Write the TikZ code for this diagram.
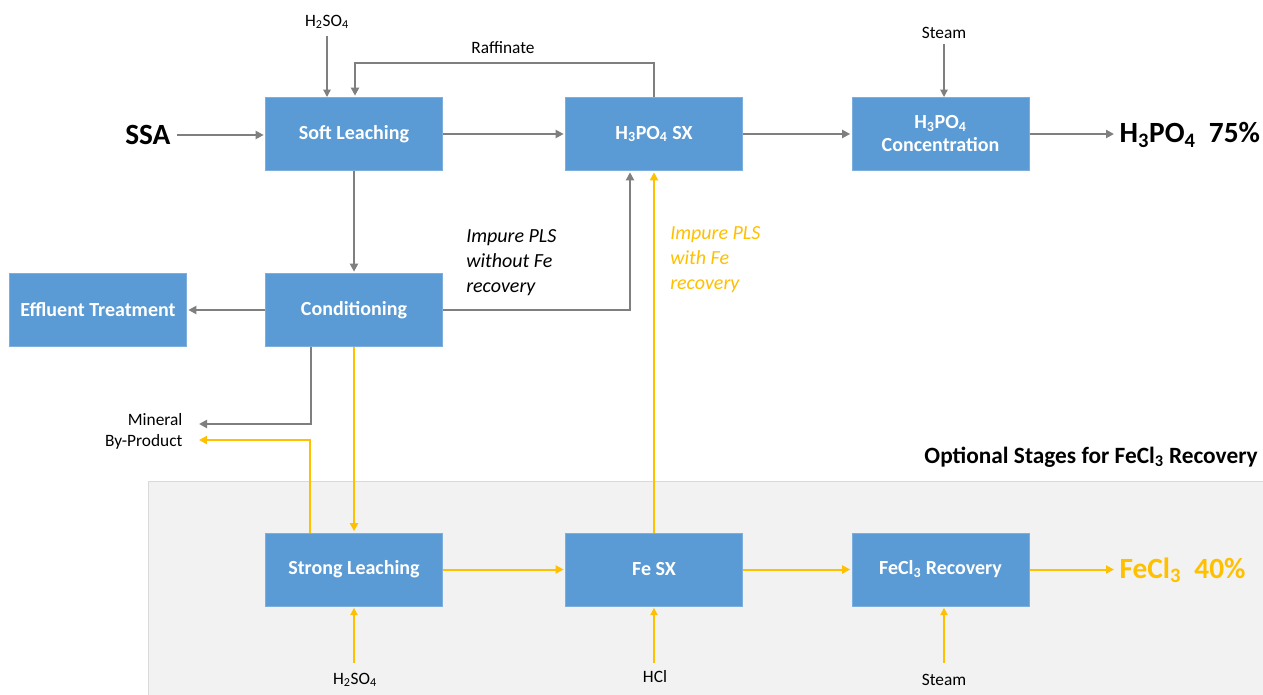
\documentclass[tikz,border=0pt]{standalone}
\usepackage{fontspec}
\setmainfont{Carlito}
\usetikzlibrary{arrows.meta,calc}
\definecolor{boxblue}{HTML}{5B9BD5}
\definecolor{flowgray}{HTML}{7F7F7F}
\definecolor{flowyellow}{HTML}{FFC000}
\definecolor{optfill}{HTML}{F2F2F2}
\definecolor{optline}{HTML}{D9D9D9}
\newcommand{\dn}[1]{\textsubscript{#1}}
\begin{document}
\begin{tikzpicture}[x=0.75pt,y=-0.75pt,
  proc/.style={rectangle, fill=boxblue, draw=boxblue!80!white, line width=0.5pt, text=white,
    font=\bfseries\fontsize{15}{17.25}\selectfont, minimum width=133pt, minimum height=55pt,
    align=center, inner sep=0pt},
  lbl/.style={font=\fontsize{13}{15}\selectfont, inner sep=1pt},
  note/.style={font=\itshape\fontsize{15}{18.75}\selectfont, align=left, inner sep=0pt},
  big/.style={font=\bfseries\fontsize{22}{24}\selectfont, inner sep=1pt},
  garrow/.style={draw=flowgray, line width=2pt, -{Triangle[length=6pt,width=6pt]}},
  yarrow/.style={draw=flowyellow, line width=1.5pt, -{Triangle[length=6pt,width=6pt]}},
  gthin/.style={draw=flowgray, line width=1pt, -{Triangle[length=5.5pt,width=5.5pt]}},
  ythin/.style={draw=flowyellow, line width=1pt, -{Triangle[length=5.5pt,width=5.5pt]}}
]
\useasboundingbox (0,0) rectangle (1263,695);
\fill[white] (0,0) rectangle (1263,695);
% optional region
\fill[optfill] (148,481) rectangle (1263,695);
\draw[optline, line width=0.75pt] (148,695) -- (148,481) -- (1263,481);
\node[anchor=east, font=\bfseries\fontsize{17.5}{20}\selectfont, inner sep=0pt] (opt) at (1258,457) {Optional Stages for FeCl\dn{3} Recovery};

% process boxes
\node[proc] (soft) at (354,134) {\raisebox{-1.5pt}{Soft Leaching}};
\node[proc] (sx) at (654,134) {\raisebox{-1.5pt}{H\dn{3}PO\dn{4} SX}};
\node[proc] (conc) at (940.5,134) {\raisebox{-1.5pt}{H\dn{3}PO\dn{4}}\\\raisebox{-1.5pt}{Concentration}};
\node[proc] (cond) at (354,310) {\raisebox{-1.5pt}{Conditioning}};
\node[proc] (eff) at (98,310) {\raisebox{-1.5pt}{Effluent Treatment}};
\node[proc] (strong) at (354,569.5) {\raisebox{-1.5pt}{Strong Leaching}};
\node[proc] (fesx) at (654,569.5) {\raisebox{-1.5pt}{Fe SX}};
\node[proc] (ferec) at (940.5,569.5) {\raisebox{-1.5pt}{FeCl\dn{3} Recovery}};

% big labels
\node[big, anchor=east] (ssa) at (172,135) {SSA};
\node[big, anchor=west] (h3po4) at (1118,135) {H\dn{3}PO\dn{4}\ \ 75\%};
\node[big, anchor=west, text=flowyellow] (fecl3) at (1118,570) {FeCl\dn{3}\ \ 40\%};

% small labels
\node[lbl] (h2so4t) at (327,22) {H\dn{2}SO\dn{4}};
\node[lbl] (raff) at (503,48) {Raffinate};
\node[lbl] (steamt) at (944,33) {Steam};
\node[lbl, anchor=east, align=right, font=\fontsize{13}{15.75}\selectfont] (mineral) at (184,431) {Mineral\\By-Product};
\node[lbl] (h2so4b) at (355,680) {H\dn{2}SO\dn{4}};
\node[lbl] (hcl) at (655,677) {HCl};
\node[lbl] (steamb) at (944,680) {Steam};
\node[note, anchor=north west] (plsno) at (466,229) {Impure PLS\\without Fe\\recovery};
\node[note, anchor=north west, text=flowyellow] (plsfe) at (670,226) {Impure PLS\\with Fe\\recovery};

% free-end coordinates
\coordinate (minA) at (199,424);
\coordinate (minB) at (199,440);
\coordinate (hclbase) at (654,663);
\coordinate (h2so4base) at (354,663);
\coordinate (steambase) at (944,663);

% gray flows
\draw[garrow, shorten <=4pt, shorten >=1pt] (ssa.east) -- (ssa.east -| soft.west);
\draw[garrow, shorten >=1pt] (soft.east) -- (sx.west);
\draw[garrow, shorten >=1pt] (sx.east) -- (conc.west);
\draw[garrow, shorten >=3pt] (conc.east) -- (conc.east -| h3po4.west);
\draw[garrow, shorten >=1pt] (sx.north) -- ++(0,-34) -| ($(soft.north)+(1,0)$);
\draw[gthin, shorten <=4pt] (h2so4t.south) -- (h2so4t.south |- soft.north);
\draw[gthin, shorten <=3pt] (steamt.south) -- (steamt.south |- conc.north);
\draw[garrow, shorten >=1pt] (soft.south) -- (cond.north);
\draw[garrow, shorten >=1pt] (cond.west) -- (eff.east);
\draw[garrow, shorten >=1pt] (cond.east) -| ($(sx.south)+(-24,0)$);
\draw[garrow] ($(cond.south)+(-43,0)$) |- (minA);

% yellow flows
\draw[yarrow, shorten >=1pt] (cond.south) -- (strong.north);
\draw[yarrow] ($(strong.north)+(-44,0)$) |- (minB);
\draw[yarrow, shorten >=1pt] (strong.east) -- (fesx.west);
\draw[yarrow, shorten >=1pt] (fesx.east) -- (ferec.west);
\draw[yarrow, shorten >=3pt] (ferec.east) -- (ferec.east -| fecl3.west);
\draw[yarrow, shorten >=1pt] (fesx.north) -- (sx.south);
\draw[ythin, shorten >=1pt] (h2so4base) -- (h2so4base |- strong.south);
\draw[ythin, shorten >=1pt] (hclbase) -- (hclbase |- fesx.south);
\draw[ythin, shorten >=1pt] (steambase) -- (steambase |- ferec.south);
\end{tikzpicture}
\end{document}
